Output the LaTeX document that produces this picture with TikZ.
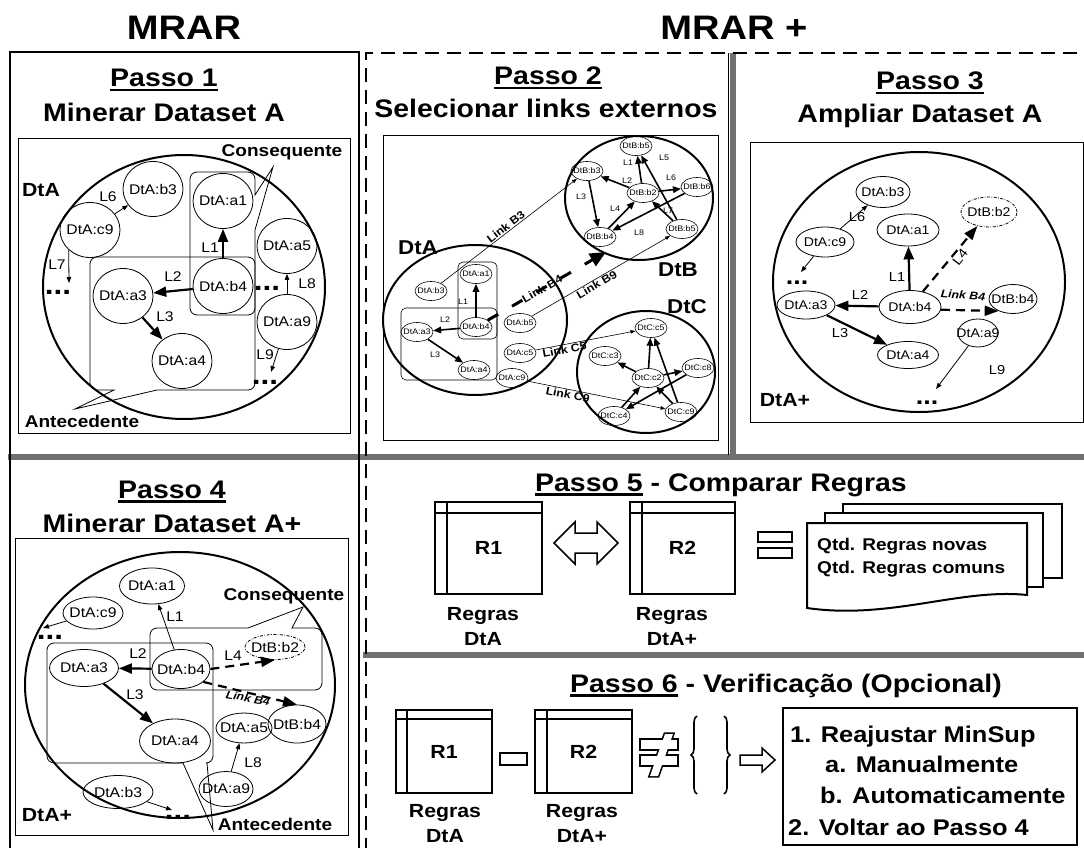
\documentclass[tikz,border=0pt]{standalone}
\usepackage{fontspec}
\setmainfont{Liberation Sans}[FakeStretch=1.12]
\usetikzlibrary{arrows.meta,shapes.geometric,decorations.pathreplacing}
\definecolor{bargray}{RGB}{112,112,112}
\newcommand\fs[1]{\fontsize{#1}{#1}\selectfont}
\newcommand\myul[1]{\setbox0\hbox{#1}\rlap{\rule[-4.5pt]{\wd0}{2.4pt}}\box0\relax}
\begin{document}
\begin{tikzpicture}[x=1pt,y=-1pt,
  ttl/.style={font=\bfseries\fs{25.4}, inner sep=0pt, anchor=base},
  hd/.style={font=\bfseries\fs{34}, inner sep=0pt, anchor=base},
  ell/.style={draw, ellipse, inner sep=0pt, line width=0.8pt,
    execute at begin node={\hbox to 0pt\bgroup\hss},
    execute at end node={\hss\egroup}},
  sz/.style 2 args={minimum width=#1pt, minimum height=#2pt},
  e1/.style={ell, sz={60}{55}, font=\fs{14}},
  e2/.style={ell, sz={32}{19}, font=\fs{8}, line width=0.6pt},
  e3/.style={ell, font=\fs{12.6}},
  e4/.style={ell, font=\fs{14}},
  ddot/.style={dash pattern=on 3pt off 1.5pt on 0.7pt off 1.5pt},
  lbl/.style={inner sep=0pt, font=\fs{14}},
  lbl2/.style={inner sep=0pt, font=\fs{8}},
  lbl3/.style={inner sep=0pt, font=\fs{13}},
  bl/.style={inner sep=0pt, font=\bfseries\fs{19}},
  cq/.style={inner sep=0pt, font=\bfseries\fs{17}, anchor=base},
  dots/.style={inner sep=0pt, font=\bfseries\fs{28}, anchor=base},
  lk/.style={inner sep=1pt, font=\bfseries\fs{11}},
  lki/.style={inner sep=0pt, font=\bfseries\itshape\fs{11}},
  thk/.style={line width=2.2pt, -{Triangle[length=13pt,width=10pt]}},
  thk2/.style={line width=1.6pt, -{Triangle[length=8pt,width=6.5pt]}},
  thn/.style={line width=0.8pt, -{Triangle[length=6pt,width=4.5pt]}},
  thn2/.style={line width=0.6pt, -{Triangle[length=5pt,width=3.5pt]}},
  dsh/.style={line width=2.2pt, dash pattern=on 9pt off 6pt, -{Triangle[length=14pt,width=10pt]}},
  dshB/.style={line width=3pt, dash pattern=on 12pt off 16pt, -{Triangle[length=16pt,width=14pt]}},
  frame/.style={line width=0.8pt},
  dataset/.style={line width=2pt},
  callout/.style={line width=0.8pt},
  tbl/.style={line width=2pt},
  rl/.style={inner sep=0pt, font=\bfseries\fs{19}},
  rlb/.style={inner sep=0pt, font=\bfseries\fs{19}, anchor=base},
  qt/.style={inner sep=0pt, font=\bfseries\fs{17}, anchor=base west},
  st/.style={inner sep=0pt, font=\bfseries\fs{22.7}, anchor=base west},
]
\useasboundingbox (0,0) rectangle (1084,848);
\clip (0,0) rectangle (1084,848);
\fill[white] (0,0) rectangle (1084,848);

% ---------- headings ----------
\node[hd] (hMRAR) at (184,40) {MRAR};
\node[hd] (hMRARp) at (734,40) {MRAR +};

% ---------- separators and frames ----------
\draw[bargray, line width=6pt] (8,457) -- (1084,457);
\draw[bargray, line width=6pt] (363,655) -- (1084,655);
\draw[bargray, line width=6pt] (733,53) -- (733,457);
\draw[line width=0.8pt] (728,53) -- (728,455);
\draw[line width=2.5pt] (10,852) -- (10,52) -- (359,52) -- (359,852);
\draw[line width=2.5pt, dash pattern=on 14pt off 8pt] (366,852) -- (366,53) -- (1090,53);

% =============== Passo 1 ===============
\node[ttl] (t1a) at (164,87) {\myul{Passo 1}};
\node[ttl] (t1b) at (164,122) {Minerar Dataset A};
\draw[frame] (18,138) rectangle (350,433);
\draw[dataset] (184,287) ellipse [x radius=141, y radius=132];
\node[bl] (A1lab) at (41,190) {DtA};
\draw[callout] (273,167) -- (255,230) [rounded corners=7pt] -- (255,315) -- (190,315) -- (190,172) -- (255,172) [sharp corners] -- (255,195) -- cycle;
\draw[callout] (75,409) -- (114,390) [rounded corners=7pt] -- (90,390) -- (90,257) -- (255,257) -- (255,390) [sharp corners] -- (157,390) -- cycle;
\node[cq] (A1cons) at (282,157) {Consequente};
\node[cq] (A1ante) at (82,427) {Antecedente};
\node[e1] (A1b3) at (153,189) {DtA:b3};
\node[e1] (A1c9) at (90,230) {DtA:c9};
\node[e1] (A1a1) at (223,201) {DtA:a1};
\node[e1] (A1b4) at (223,286) {DtA:b4};
\node[e1] (A1a3) at (123,296) {DtA:a3};
\node[e1] (A1a4) at (182,361) {DtA:a4};
\node[e1] (A1a5) at (287,246) {DtA:a5};
\node[e1] (A1a9) at (287,322) {DtA:a9};
\draw[thk] (A1b4) -- (A1a1);
\draw[thk] (A1b4) -- (A1a3);
\draw[thk] (A1a3) -- (A1a4);
\draw[thn] (A1c9) -- (A1b3);
\coordinate (A1d1) at (69,283);
\draw[thn] (A1c9.-137) -- (A1d1);
\draw[thn] (A1a9) -- (A1a5);
\coordinate (A1d2) at (271,372);
\draw[thn] (A1a9) -- (A1d2);
\node[dots] (A1x1) at (58,294) {...};
\node[dots] (A1x2) at (267,290) {...};
\node[dots] (A1x3) at (265,384) {...};
\node[lbl] (A1L1) at (210,248) {L1};
\node[lbl] (A1L2) at (173,277) {L2};
\node[lbl] (A1L3) at (165,317) {L3};
\node[lbl] (A1L6) at (108,197) {L6};
\node[lbl] (A1L7) at (57,265) {L7};
\node[lbl] (A1L8) at (307,284) {L8};
\node[lbl] (A1L9) at (265,355) {L9};

% =============== Passo 2 ===============
\node[ttl] (t2a) at (548,85) {\myul{Passo 2}};
\node[ttl] (t2b) at (546,118) {Selecionar links externos};
\draw[frame] (383,135) rectangle (718,440);
\draw[dataset] (475,320) ellipse [x radius=92, y radius=75];
\draw[dataset] (639,198) ellipse [x radius=74, y radius=62];
\draw[dataset] (646,372) ellipse [x radius=69, y radius=61];
\node[bl, font=\bfseries\fs{20}] (A2lab) at (418,248) {DtA};
\node[bl, font=\bfseries\fs{20}] (B2lab) at (678,270) {DtB};
\node[bl, font=\bfseries\fs{20}] (C2lab) at (687,307) {DtC};
\draw[line width=0.6pt, rounded corners=5pt] (458,262) rectangle (497,339);
\draw[line width=0.6pt, rounded corners=5pt] (401,308) rectangle (497,380);
\node[e2] (A2a1) at (476,274) {DtA:a1};
\node[e2] (A2b3) at (431,291) {DtA:b3};
\node[e2] (A2b4) at (476,327) {DtA:b4};
\node[e2] (A2a3) at (417,332) {DtA:a3};
\node[e2] (A2a4) at (474,370) {DtA:a4};
\node[e2] (A2b5) at (520,323) {DtA:b5};
\node[e2] (A2c5) at (520,353) {DtA:c5};
\node[e2] (A2c9) at (512,378) {DtA:c9};
\node[e2] (B2b5t) at (636,146) {DtB:b5};
\node[e2] (B2b3) at (587,171) {DtB:b3};
\node[e2] (B2b2) at (643,193) {DtB:b2};
\node[e2] (B2b6) at (697,187) {DtB:b6};
\node[e2] (B2b4) at (600,237) {DtB:b4};
\node[e2] (B2b5r) at (682,229) {DtB:b5};
\node[e2] (C2c5) at (651,328) {DtC:c5};
\node[e2] (C2c3) at (605,356) {DtC:c3};
\node[e2] (C2c2) at (648,378) {DtC:c2};
\node[e2] (C2c8) at (698,368) {DtC:c8};
\node[e2] (C2c4) at (614,416) {DtC:c4};
\node[e2] (C2c9) at (681,412) {DtC:c9};
\draw[thk2] (A2b4) -- (A2a1);
\draw[thk2] (A2b4) -- (A2a3);
\draw[thk2] (A2a3) -- (A2a4);
\node[lbl2] (A2L1) at (463,302) {L1};
\node[lbl2] (A2L2) at (445,320) {L2};
\node[lbl2] (A2L3) at (435,355) {L3};
\draw[thk2] (B2b2) -- (B2b5t);
\draw[thk2] (B2b2) -- (B2b3);
\draw[thk2] (B2b3) -- (B2b4);
\draw[thk2] (B2b4) -- (B2b2);
\draw[thk2] (B2b5r) -- (B2b5t);
\draw[thk2] (B2b2) -- (B2b6);
\draw[thk2] (B2b5r) -- (B2b2);
\draw[thk2] (B2b6) -- (B2b4);
\node[lbl2] (B2L1) at (628,163) {L1};
\node[lbl2] (B2L2) at (627,181) {L2};
\node[lbl2] (B2L3) at (581,197) {L3};
\node[lbl2] (B2L4) at (615,209) {L4};
\node[lbl2] (B2L5) at (664,158) {L5};
\node[lbl2] (B2L6) at (671,178) {L6};
\node[lbl2] (B2L7) at (668,211) {L7};
\node[lbl2] (B2L8) at (639,233) {L8};
\draw[thk2] (C2c2) -- (C2c5);
\draw[thk2] (C2c2) -- (C2c3);
\draw[thk2] (C2c2) -- (C2c8);
\draw[thk2] (C2c4) -- (C2c2);
\draw[thk2] (C2c8) -- (C2c4);
\draw[thk2] (C2c9) -- (C2c5);
\draw[thk2] (C2c9) -- (C2c2);
\draw[thn2] (A2b3) -- node[lk, sloped, above] {Link B3} (B2b3);
\coordinate (B2tip) at (606,252);
\draw[dshB] (A2b4) -- node[lk, sloped, pos=0.46] {Link B4} (B2tip);
\draw[thn2] (A2b5) -- node[lk, sloped, below, pos=0.45] {Link B9} (B2b5r);
\draw[thn2] (A2c5) -- node[lk, sloped, below, pos=0.28] {Link C5} (C2c5);
\draw[thn2] (A2c9) -- node[lk, sloped, below, pos=0.3] {Link C9} (C2c9);

% =============== Passo 3 ===============
\node[ttl] (t3a) at (930,90) {\myul{Passo 3}};
\node[ttl] (t3b) at (920,123) {Ampliar Dataset A};
\draw[frame] (750,142) rectangle (1083,422);
\draw[dataset] (919,282) ellipse [x radius=146, y radius=130];
\node[e3, sz={54}{31}] (A3b3) at (883,192) {DtA:b3};
\node[e3, sz={56}{30}, ddot] (B3b2) at (989,212) {DtB:b2};
\node[e3, sz={62}{32}] (A3a1) at (908,230) {DtA:a1};
\node[e3, sz={58}{30}] (A3c9) at (825,242) {DtA:c9};
\node[e3, sz={58}{28}] (A3a3) at (806,305) {DtA:a3};
\node[e3, sz={62}{33}] (A3b4) at (910,307) {DtA:b4};
\node[e3, sz={48}{29}] (B3b4) at (1013,299) {DtB:b4};
\node[e3, sz={61}{27}] (A3a4) at (908,355) {DtA:a4};
\node[e3, sz={40}{28}] (A3a9) at (978,333) {DtA:a9};
\draw[thn] (A3c9) -- (A3b3);
\coordinate (A3d1) at (801,272);
\draw[thn] (A3c9) -- (A3d1);
\draw[thk] (A3b4) -- (A3a1);
\draw[thk] (A3b4) -- (A3a3);
\draw[thk] (A3a3) -- (A3a4);
\draw[dsh] (A3b4) -- (B3b2);
\draw[dsh] (A3b4.-5) -- (B3b4.-140);
\coordinate (A3d2) at (936,389);
\draw[thn] (A3a9) -- (A3d2);
\node[dots, font=\bfseries\fs{24}] (A3x1) at (797,284) {...};
\node[dots, font=\bfseries\fs{24}] (A3x2) at (927,404) {...};
\node[lbl3] (A3L6) at (857,217) {L6};
\node[lbl3] (A3L1) at (897,277) {L1};
\node[lbl3] (A3L2) at (860,295) {L2};
\node[lbl3] (A3L3) at (840,333) {L3};
\node[lbl3, rotate=52] (A3L4) at (960,257) {L4};
\node[lki, rotate=-4] (A3lk) at (963,295) {Link B4};
\node[lbl3] (A3L9) at (997,370) {L9};
\node[bl] (A3lab) at (785,400) {DtA+};

% =============== Passo 4 ===============
\node[ttl] (t4a) at (172,498) {\myul{Passo 4}};
\node[ttl] (t4b) at (172,532) {Minerar Dataset A+};
\draw[frame] (15,538) rectangle (348,835);
\draw[dataset] (180,685) ellipse [x radius=155, y radius=133];
\draw[callout] (303,607) -- (292,628) [rounded corners=7pt] -- (322,628) -- (322,690) -- (150,690) -- (150,628) [sharp corners] -- (248,628) -- cycle;
\draw[callout] (213,830) -- (207,763) [rounded corners=7pt] -- (213,763) -- (213,643) -- (47,643) -- (47,763) [sharp corners] -- (183,763) -- cycle;
\node[cq] (A4cons) at (284,600) {Consequente};
\node[cq] (A4ante) at (275,830) {Antecedente};
\node[e4, sz={65}{36}] (A4a1) at (152,586) {DtA:a1};
\node[e4, sz={60}{32}] (A4c9) at (93,613) {DtA:c9};
\node[e4, sz={69}{37}] (A4a3) at (84,668) {DtA:a3};
\node[e4, sz={58}{39}] (A4b4) at (181,669) {DtA:b4};
\node[e4, sz={60}{25}, ddot] (B4b2) at (275,647) {DtB:b2};
\node[e4, sz={71}{44}] (A4a4) at (175,741) {DtA:a4};
\node[e4, sz={56}{30}] (A4a5) at (244,728) {DtA:a5};
\node[e4, sz={58}{38}] (B4b4) at (297,724) {DtB:b4};
\node[e4, sz={70}{33}] (A4b3) at (118,792) {DtA:b3};
\node[e4, sz={54}{35}] (A4a9) at (226,789) {DtA:a9};
\draw[thn] (A4b4) -- (A4a1);
\coordinate (A4d1) at (43,628);
\draw[thn] (A4c9) -- (A4d1);
\draw[thk] (A4b4) -- (A4a3);
\draw[thk] (A4a3) -- (A4a4);
\draw[dsh] (A4b4.east) -- (B4b2.south);
\draw[dsh] (A4b4.-30) -- (B4b4.north);
\draw[thn] (A4a9) -- (A4a5);
\coordinate (A4d2) at (172,810);
\draw[thn] (A4b3) -- (A4d2);
\node[dots] (A4x1) at (50,639) {...};
\node[dots] (A4x2) at (178,819) {...};
\node[lbl] (A4L1) at (175,617) {L1};
\node[lbl] (A4L2) at (138,654) {L2};
\node[lbl] (A4L3) at (135,695) {L3};
\node[lbl] (A4L4) at (233,656) {L4};
\node[lbl] (A4L8) at (253,763) {L8};
\node[lki, rotate=-10] (A4lk) at (248,698) {Link B4};
\node[bl] (A4lab) at (47,815) {DtA+};

% =============== Passo 5 ===============
\node[ttl, anchor=base west] (t5) at (535,491) {\myul{Passo 5} - Comparar Regras};
\node[draw, tbl, rl, minimum width=107pt, minimum height=92pt] (P5R1) at (488.5,548) {R1};
\draw[tbl] ([xshift=13pt]P5R1.north west) -- ([xshift=13pt]P5R1.south west);
\draw[tbl] ([yshift=-12pt]P5R1.north west) -- ([yshift=-12pt]P5R1.north east);
\node[draw, tbl, rl, minimum width=105pt, minimum height=92pt] (P5R2) at (682.5,548) {R2};
\draw[tbl] ([xshift=13pt]P5R2.north west) -- ([xshift=13pt]P5R2.south west);
\draw[tbl] ([yshift=-12pt]P5R2.north west) -- ([yshift=-12pt]P5R2.north east);
\draw[line width=1.5pt, line join=miter] (554,543) -- (575,522) -- (575,533) -- (597,533) -- (597,522) -- (618,543) -- (597,564) -- (597,553) -- (575,553) -- (575,564) -- cycle;
\node[rlb] (P5g1) at (483,620) {Regras};
\node[rlb] (P5g2) at (483,645) {DtA};
\node[rlb] (P5g3) at (672,620) {Regras};
\node[rlb] (P5g4) at (672,645) {DtA+};
\draw[line width=2pt] (758,532) rectangle (792,542);
\draw[line width=2pt] (758,548) rectangle (792,558);
\draw[line width=2pt, fill=white] (843,504) rectangle (1062,578);
\draw[line width=2pt, fill=white] (825,513) rectangle (1043,587);
\draw[line width=2pt, fill=white] (807,523) -- (1027,523) -- (1027,595) .. controls (960,588) and (890,620) .. (807,608) -- cycle;
\node[qt] (P5q1) at (817,550) {Qtd. Regras novas};
\node[qt] (P5q2) at (817,573) {Qtd. Regras comuns};

% =============== Passo 6 ===============
\node[ttl, anchor=base west] (t6) at (570,692) {\myul{Passo 6} - Verificação (Opcional)};
\node[draw, tbl, rl, minimum width=96pt, minimum height=83pt] (P6R1) at (444,751.5) {R1};
\draw[tbl] ([xshift=12pt]P6R1.north west) -- ([xshift=12pt]P6R1.south west);
\draw[tbl] ([yshift=-10pt]P6R1.north west) -- ([yshift=-10pt]P6R1.north east);
\node[draw, tbl, rl, minimum width=97pt, minimum height=83pt] (P6R2) at (583.5,751.5) {R2};
\draw[tbl] ([xshift=13pt]P6R2.north west) -- ([xshift=13pt]P6R2.south west);
\draw[tbl] ([yshift=-10pt]P6R2.north west) -- ([yshift=-10pt]P6R2.north east);
\draw[line width=1.8pt] (500,753) rectangle (527,765);
\begin{scope}
  \draw[line width=3.2pt] (641,740) rectangle (677,749);
  \draw[line width=3.2pt] (641,756) rectangle (677,765);
  \draw[line width=3.2pt] (650,776) -- (658,776) -- (673,734) -- (665,734) -- cycle;
  \fill[white] (641,740) rectangle (677,749);
  \fill[white] (641,756) rectangle (677,765);
  \fill[white] (650,776) -- (658,776) -- (673,734) -- (665,734) -- cycle;
\end{scope}
\draw[line width=1.6pt, decorate, decoration={brace, amplitude=6pt}] (697,794) -- (697,716);
\draw[line width=1.6pt, decorate, decoration={brace, amplitude=6pt}] (724,716) -- (724,794);
\draw[line width=1.5pt, line join=miter] (740,755) -- (762,755) -- (762,748) -- (775,760) -- (762,772) -- (762,765) -- (740,765) -- cycle;
\node[rlb] (P6g1) at (445,817) {Regras};
\node[rlb] (P6g2) at (445,842) {DtA};
\node[rlb] (P6g3) at (582,817) {Regras};
\node[rlb] (P6g4) at (582,842) {DtA+};
\node[draw, line width=1.8pt, minimum width=294pt, minimum height=137pt, inner sep=0pt] (P6box) at (930,776.5) {};
\node[st] (P6s1) at (790,742) {1. Reajustar MinSup};
\node[st] (P6s2) at (825,772) {a. Manualmente};
\node[st] (P6s3) at (820,803) {b. Automaticamente};
\node[st] (P6s4) at (788,835) {2. Voltar ao Passo 4};
\end{tikzpicture}
\end{document}
